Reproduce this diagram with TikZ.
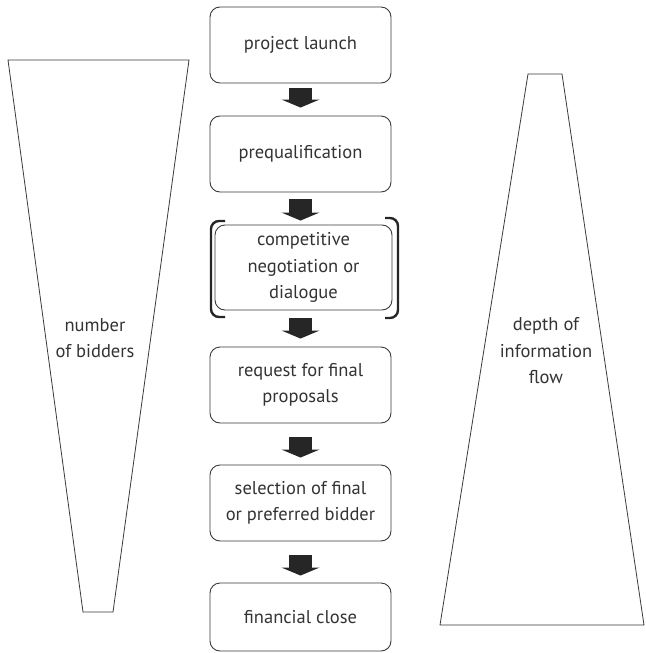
\documentclass[tikz,border=0pt]{standalone}
\usepackage{fontspec}
\setmainfont{PT Sans}
\usetikzlibrary{arrows.meta}
\definecolor{ink}{HTML}{333333}
\definecolor{linec}{HTML}{3A3A3A}
\tikzset{
  stage/.style={draw=linec, line width=0.9pt, rounded corners=10pt, minimum width=181pt, minimum height=76pt, inner sep=0pt, align=center, text=ink, font=\fontsize{18.5}{26.5}\selectfont},
  bigarrow/.style={draw=black!85, line width=23pt, -{Triangle[width=38pt,length=8pt,line width=0pt]}},
  funnel/.style={draw=linec, line width=0.8pt},
  bracketline/.style={draw=black!85, line width=2.4pt, rounded corners=8pt},
  lbl/.style={align=center, text=ink, font=\fontsize{18.5}{26.5}\selectfont, inner sep=0pt}
}
\begin{document}
\begin{tikzpicture}[x=1pt,y=-1pt]
\useasboundingbox (0,0) rectangle (645,653);
% funnels
\draw[funnel] (8,60) -- (189,60) -- (113,612) -- (83,612) -- cycle;
\draw[funnel] (528,74) -- (562,74) -- (644,625) -- (440,625) -- cycle;
\node[lbl] (bid) at (95,338) {number\\of bidders};
\node[lbl] (info) at (546,351) {depth of\\information\\flow};
% stages
\node[stage] (s1) at (300.5,45) {project launch};
\node[stage] (s2) at (300.5,154) {prequalification};
\node[stage, minimum width=177pt, minimum height=85pt] (s3) at (303.5,267.5) {competitive\\negotiation or\\dialogue};
\node[stage] (s4) at (300.5,385) {request for final\\proposals};
\node[stage] (s5) at (300.5,503) {selection of final\\or preferred bidder};
\node[stage, minimum height=68pt] (s6) at (300.5,617) {financial close};
% bracket
\coordinate (bl1) at (225,221);
\coordinate (bl2) at (225,317);
\coordinate (br1) at (385,218);
\coordinate (br2) at (385,318);
\draw[bracketline] (bl1) -- (211,221) -- (211,317) -- (bl2);
\draw[bracketline] (br1) -- (398,218) -- (398,318) -- (br2);
% arrows
\draw[bigarrow, shorten <=5pt, shorten >=8pt] (s1.south) -- (s1.south |- s2.north);
\draw[bigarrow, shorten <=7pt, shorten >=4pt] (s2.south) -- (s2.south |- s3.north);
\draw[bigarrow, shorten <=8pt, shorten >=8pt] (s1.south |- s3.south) -- (s4.north);
\draw[bigarrow, shorten <=14pt, shorten >=7pt] (s4.south) -- (s5.north);
\draw[bigarrow, shorten <=14pt, shorten >=7pt] (s5.south) -- (s6.north);
\end{tikzpicture}
\end{document}
